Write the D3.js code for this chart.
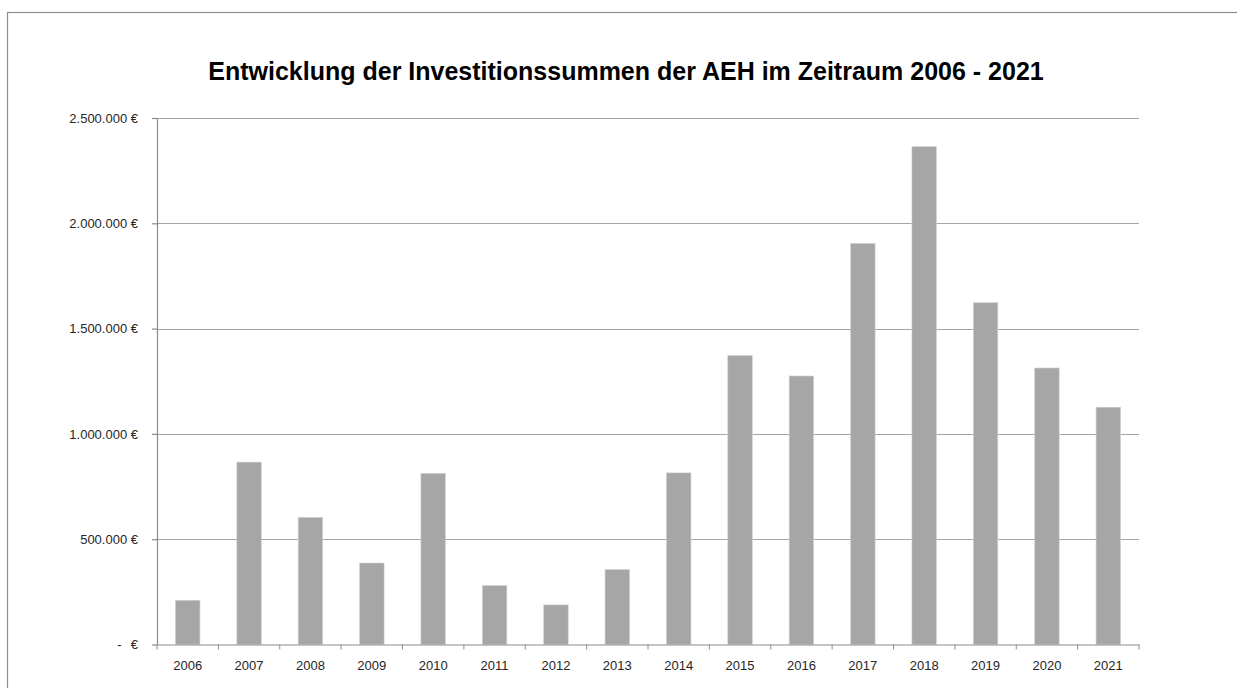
<!DOCTYPE html>
<html>
<head>
<meta charset="utf-8">
<script src="https://cdnjs.cloudflare.com/ajax/libs/d3/7.8.5/d3.min.js"></script>
<style>
    body { margin: 0; background: #fff; }
    svg { display: block; }
</style>
</head>
<body>
<script>
const years = ['2006', '2007', '2008', '2009', '2010', '2011', '2012', '2013',
    '2014', '2015', '2016', '2017', '2018', '2019', '2020', '2021'];
const amounts = [210000, 866000, 604000, 387000, 813000, 280000, 188000, 356000,
    815000, 1372000, 1275000, 1905000, 2364000, 1623000, 1313000, 1127000];
const y_ticks = [0, 500000, 1000000, 1500000, 2000000, 2500000];
const title = 'Entwicklung der Investitionssummen der AEH im Zeitraum 2006 - 2021';

const data_array = years.map((y, i) => ({year: y, amount: amounts[i]}));

const width = 1237;
const height = 688;
const margins = {top: 118, bottom: 43.5, left: 157, right: 98};

const de = d3.formatLocale({decimal: ',', thousands: '.', grouping: [3], currency: ['', '\u00a0€']});
const fmt = de.format('$,.0f');

var svg = d3.select('body')
    .append('svg')
    .attr('width', width)
    .attr('height', height);

// outer chart frame (right and bottom edges run off the picture)
svg.append('rect')
    .attr('x', 7.5)
    .attr('y', 12.5)
    .attr('width', 1300)
    .attr('height', 800)
    .attr('fill', 'none')
    .attr('stroke', '#8c8c8c')
    .attr('stroke-width', 1.2);

svg.append('text')
    .attr('x', 626)
    .attr('y', 80)
    .attr('text-anchor', 'middle')
    .attr('font-family', 'Liberation Sans, Arial, sans-serif')
    .attr('font-weight', 'bold')
    .attr('font-size', '25px')
    .attr('fill', '#000')
    .text(title);

var x_scale = d3.scaleBand()
    .domain(years)
    .range([margins.left, width - margins.right])
    .padding(0);

var y_scale = d3.scaleLinear()
    .domain([0, 2500000])
    .range([height - margins.bottom, margins.top]);

// gridlines
svg.append('g')
    .selectAll('line')
    .data(y_ticks.slice(1))
    .enter()
    .append('line')
    .attr('x1', margins.left)
    .attr('x2', width - margins.right)
    .attr('y1', d => Math.round(y_scale(d)) + 0.5)
    .attr('y2', d => Math.round(y_scale(d)) + 0.5)
    .attr('stroke', '#a6a6a6')
    .attr('stroke-width', 1.2);

// bars
svg.append('g')
    .selectAll('rect')
    .data(data_array)
    .enter()
    .append('rect')
    .attr('x', d => x_scale(d.year) + x_scale.bandwidth() * 0.3)
    .attr('width', x_scale.bandwidth() * 0.4)
    .attr('y', d => y_scale(d.amount))
    .attr('height', d => y_scale(0) - y_scale(d.amount))
    .attr('fill', '#a6a6a6')
    .attr('stroke', '#d4d4d4')
    .attr('stroke-width', 0.6);

let y_axis = d3.axisLeft(y_scale)
    .tickValues(y_ticks)
    .tickSizeInner(5)
    .tickSizeOuter(0)
    .tickPadding(14)
    .tickFormat(d => d === 0 ? '-\u2002\u2009€' : fmt(d));

let x_axis = d3.axisBottom(x_scale)
    .tickSize(0)
    .tickPadding(16);

var ya = svg.append('g')
    .attr('transform', 'translate(' + margins.left + ',0)')
    .call(y_axis);

var xa = svg.append('g')
    .attr('transform', 'translate(0,' + (height - margins.bottom) + ')')
    .call(x_axis);

// x tick marks sit on category boundaries
xa.selectAll('.boundary')
    .data(years.concat(['end']))
    .enter()
    .append('line')
    .attr('class', 'boundary')
    .attr('x1', (d, i) => margins.left + i * x_scale.step())
    .attr('x2', (d, i) => margins.left + i * x_scale.step())
    .attr('y1', 0)
    .attr('y2', 5)
    .attr('stroke', '#8c8c8c');

[ya, xa].forEach(a => {
    a.selectAll('.domain, .tick line').attr('stroke', '#8c8c8c').attr('stroke-width', 1.2);
    a.selectAll('text')
        .attr('font-family', 'Liberation Sans, Arial, sans-serif')
        .attr('font-size', '13px')
        .attr('fill', '#262626')
        .style('white-space', 'pre');
});
</script>
</body>
</html>
